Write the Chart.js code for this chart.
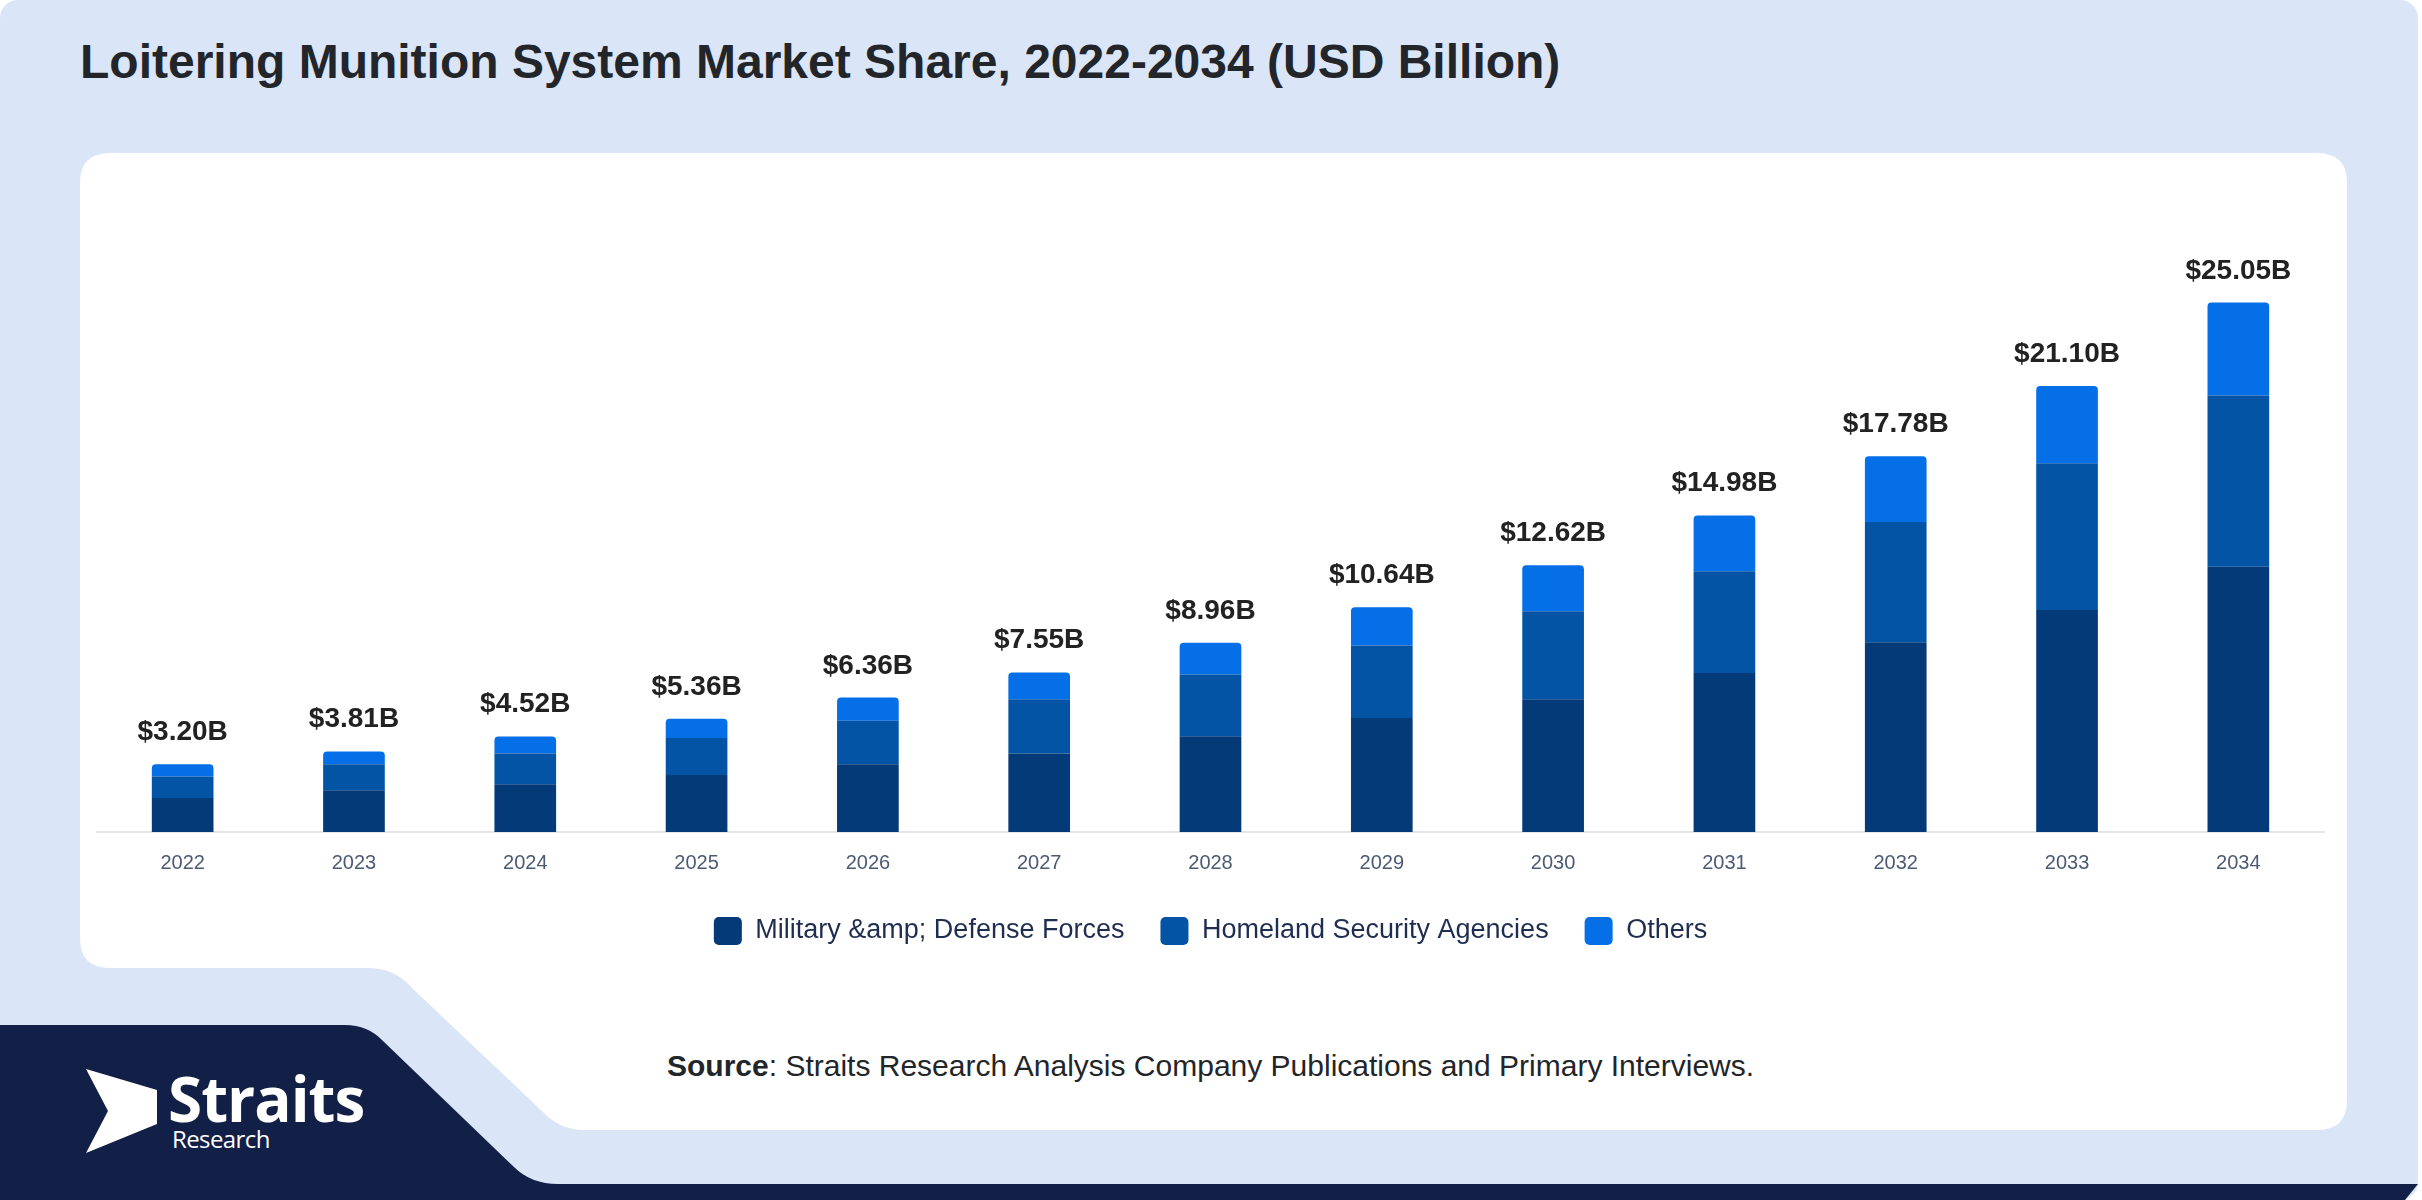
<!DOCTYPE html>
<html>
<head>
<meta charset="utf-8">
<title>Loitering Munition System Market Share</title>
<script src="https://cdn.jsdelivr.net/npm/chart.js@4.4.1/dist/chart.umd.min.js"></script>
<style>
  html, body { margin: 0; padding: 0; background: #ffffff; }
  body { width: 2422px; height: 1200px; position: relative; overflow: hidden; font-family: 'Liberation Sans', Arial, sans-serif; }
  #bg { position: absolute; left: 0; top: 0; }
  .title { position: absolute; left: 80px; top: 38px; font-size: 48px; line-height: 48px; font-weight: bold; color: #222529; white-space: nowrap; }
  .chart-box { position: absolute; left: 80px; top: 153px; width: 2267px; height: 815px; }
  .source { position: absolute; left: 667px; top: 1050px; font-size: 30px; line-height: 32px; color: #222529; white-space: nowrap; }
  .logo-name { position: absolute; left: 168px; top: 1064px; font-family: 'Open Sans', sans-serif; font-weight: 700; font-size: 62px; line-height: 68px; color: #ffffff; letter-spacing: -1px; }
  .logo-sub { position: absolute; left: 172px; top: 1126px; font-family: 'Open Sans', sans-serif; font-size: 24px; line-height: 26px; color: #ffffff; letter-spacing: -0.6px; }
</style>
</head>
<body>
<svg id="bg" width="2422" height="1200" viewBox="0 0 2422 1200">
  <rect x="0" y="0" width="2418" height="1200" rx="18" fill="#dae6f7"/>
  <!-- franja azul oscuro abajo a la izquierda -->
  <path d="M0,1025 L345,1025 Q368,1025 383,1041 L514,1167 Q531,1184 558,1184 L2418,1184 L2405,1200 L0,1200 Z" fill="#121f46"/>
  <!-- panel blanco -->
  <path d="M110,153 L2317,153 Q2347,153 2347,183 L2347,1100 Q2347,1130 2317,1130 L585,1130 Q560,1130 543,1112 L412,988 Q395,968 368,968 L110,968 Q80,968 80,938 L80,183 Q80,153 110,153 Z" fill="#ffffff"/>
  <!-- marca del logo -->
  <polygon points="86,1069 157,1090 157,1124 86,1153 108,1111" fill="#ffffff"/>
</svg>

<div class="title">Loitering Munition System Market Share, 2022-2034 (USD Billion)</div>

<div class="chart-box"><canvas id="chart"></canvas></div>

<div class="source"><b>Source</b>: Straits Research Analysis Company Publications and Primary Interviews.</div>

<div class="logo-name">Straits</div>
<div class="logo-sub">Research</div>

<script>
// valores (USD mil millones)
const years = ['2022', '2023', '2024', '2025', '2026', '2027', '2028', '2029', '2030', '2031', '2032', '2033', '2034'];
const military = [1.61, 1.97, 2.26, 2.70, 3.21, 3.72, 4.53, 5.40, 6.28, 7.52, 8.98, 10.51, 12.55];
const homeland = [1.02, 1.24, 1.46, 1.75, 2.05, 2.56, 2.92, 3.43, 4.16, 4.82, 5.69, 6.94, 8.11];
const others = [0.57, 0.60, 0.80, 0.91, 1.10, 1.27, 1.51, 1.81, 2.18, 2.64, 3.11, 3.65, 4.39];
const totalLabels = ['$3.20B', '$3.81B', '$4.52B', '$5.36B', '$6.36B', '$7.55B', '$8.96B', '$10.64B', '$12.62B', '$14.98B', '$17.78B', '$21.10B', '$25.05B'];
const seriesNames = ['Military &amp; Defense Forces', 'Homeland Security Agencies', 'Others'];
const seriesColors = ['#043a78', '#0454a6', '#056fe8'];

Chart.defaults.font.family = "'Liberation Sans', Arial, sans-serif";

// etiquetas de total encima de cada barra
const totalsPlugin = {
    id: 'totals',
    afterDatasetsDraw(chart) {
        const ctx = chart.ctx;
        const topMeta = chart.getDatasetMeta(chart.data.datasets.length - 1);
        ctx.save();
        ctx.font = "bold 28px 'Liberation Sans', Arial, sans-serif";
        ctx.fillStyle = '#222222';
        ctx.textAlign = 'center';
        ctx.textBaseline = 'alphabetic';
        topMeta.data.forEach((bar, i) => {
            ctx.fillText(totalLabels[i], bar.x, bar.y - 24);
        });
        ctx.restore();
    }
};

const datasets = [military, homeland, others].map((values, i) => ({
    label: seriesNames[i],
    data: values,
    backgroundColor: seriesColors[i],
    borderWidth: 0,
    borderRadius: i === 2 ? 4 : 0,
    barPercentage: 0.36,
    categoryPercentage: 1
}));

new Chart(document.getElementById('chart'), {
    type: 'bar',
    data: { labels: years, datasets: datasets },
    options: {
        responsive: true,
        maintainAspectRatio: false,
        animation: false,
        layout: { padding: { left: 17, right: 23, top: 45, bottom: 13 } },
        plugins: {
            legend: {
                position: 'bottom',
                labels: {
                    boxWidth: 28,
                    boxHeight: 28,
                    useBorderRadius: true,
                    borderRadius: 5,
                    padding: 36,
                    color: '#1f2d50',
                    font: { size: 27 }
                }
            },
            tooltip: { enabled: false }
        },
        scales: {
            x: {
                stacked: true,
                grid: { display: false, drawTicks: false },
                border: { display: true, color: '#e2e5ea', width: 2 },
                ticks: { color: '#4d5a75', font: { size: 20 }, padding: 19 },
                afterFit(scale) { scale.height -= 13; }
            },
            y: {
                stacked: true,
                display: false,
                min: 0,
                max: 30
            }
        }
    },
    plugins: [totalsPlugin]
});
</script>
</body>
</html>
